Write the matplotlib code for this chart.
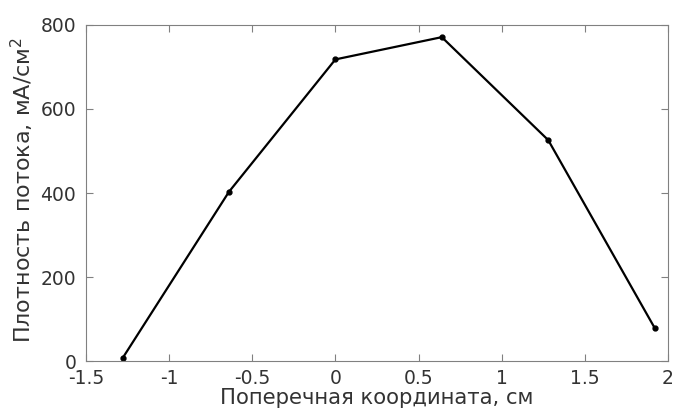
import matplotlib
matplotlib.use('Agg')
import matplotlib.pyplot as plt

x = [-1.28, -0.64, 0.0, 0.64, 1.28, 1.92]
flux = [7, 403, 718, 771, 526, 79]

xticks = [-1.5, -1, -0.5, 0, 0.5, 1, 1.5, 2]
xticklabels = ['-1.5', '-1', '-0.5', '0', '0.5', '1', '1.5', '2']
yticks = [0, 200, 400, 600, 800]

plt.rcParams['font.family'] = 'DejaVu Sans'
plt.rcParams['mathtext.fontset'] = 'dejavusans'

fig = plt.figure(figsize=(6.74, 4.16), dpi=100)
ax = fig.add_axes([0.1276, 0.132, 0.8634, 0.808])

ax.plot(x, flux, color='black', linewidth=1.6, marker='o', markersize=3.5,
        markerfacecolor='black')

ax.set_xlim(-1.5, 2)
ax.set_ylim(0, 800)
ax.set_xticks(xticks)
ax.set_xticklabels(xticklabels)
ax.set_yticks(yticks)

for s in ax.spines.values():
    s.set_color('#808080')
    s.set_linewidth(0.8)
ax.tick_params(direction='in', top=True, right=True, length=5, color='#808080',
               labelsize=13.5, labelcolor='#333333')
ax.tick_params(axis='x', pad=6)
ax.tick_params(axis='y', pad=7)

ax.set_xlabel('Поперечная координата, см', fontsize=15.2, color='#333333', labelpad=0)
ax.set_ylabel('Плотность потока, мА/см$^2$', fontsize=16, color='#333333')
ax.yaxis.set_label_coords(-0.086, 0.51)

fig.savefig('out.png', dpi=100)
